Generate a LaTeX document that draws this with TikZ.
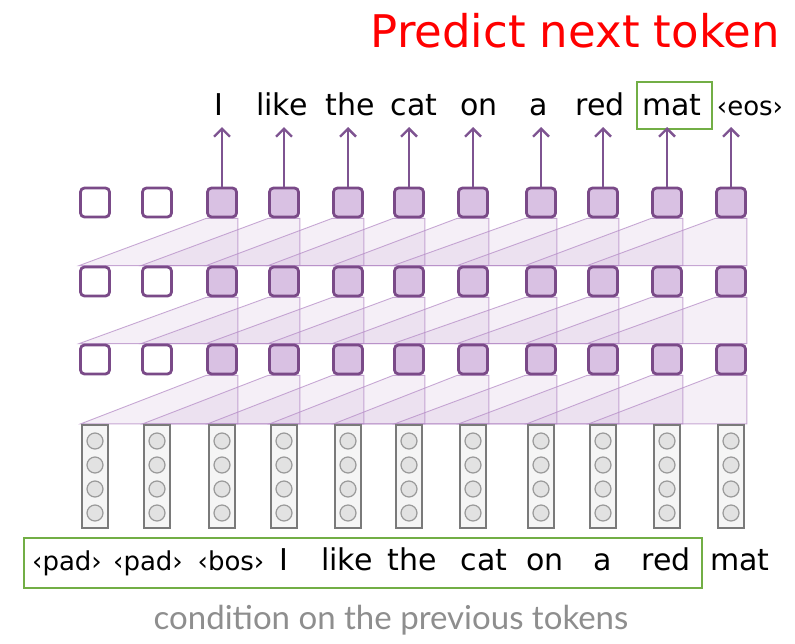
\documentclass[tikz,border=0pt]{standalone}
\usepackage{fontspec}
\setmainfont{DejaVu Sans}
\newfontfamily\capfont{Lato}
\usetikzlibrary{arrows.meta,calc,backgrounds}
\definecolor{pdark}{HTML}{7A4A88}
\definecolor{pfill}{HTML}{D9C1E3}
\definecolor{pline}{HTML}{B58CC6}
\definecolor{parrow}{HTML}{7E5391}
\definecolor{gbox}{HTML}{72AE45}
\definecolor{vstroke}{HTML}{7A7A7A}
\definecolor{vfill}{HTML}{F5F5F5}
\definecolor{cfill}{HTML}{E2E2E2}
\definecolor{cstroke}{HTML}{9A9A9A}
\definecolor{captc}{HTML}{8E8E8E}
\begin{document}
\begin{tikzpicture}[x=1pt,y=-1pt,
  cell/.style={draw=pdark,line width=2.8pt,rounded corners=4pt,minimum size=29pt,inner sep=0pt},
  vec/.style={draw=vstroke,line width=2.4pt,fill=vfill,minimum width=26pt,minimum height=103pt,inner sep=0pt},
  unit/.style={circle,draw=cstroke,fill=cfill,line width=1.2pt,minimum size=16pt,inner sep=0pt},
  field/.style={fill=pline,fill opacity=0.14,draw=pline,draw opacity=0.75,line width=0.9pt},
  word/.style={font=\fontsize{30}{36}\selectfont,anchor=base,inner sep=0pt},
  tok/.style={font=\fontsize{26}{31}\selectfont,anchor=base,inner sep=0pt},
  up/.style={draw=parrow,line width=2.4pt,-{Straight Barb[length=8pt,width=16pt]}},
  greenbox/.style={draw=gbox,line width=2.6pt,inner sep=0pt}
]
\useasboundingbox (0,0) rectangle (795,643);
% title
\node[text=red,font=\fontsize{45}{54}\selectfont,anchor=base east,inner sep=0pt] (title) at (780,47) {Predict next token};
% columns
\foreach \i/\x in {0/95,1/157,2/222,3/284,4/348,5/409,6/473,7/541,8/603,9/667,10/731} {
  \ifnum\i<2 \def\fc{white}\else\def\fc{pfill}\fi
  \node[cell,fill=\fc] (b1-\i) at (\x,202.5) {};
  \node[cell,fill=\fc] (b2-\i) at (\x,281.5) {};
  \node[cell,fill=\fc] (b3-\i) at (\x,359.5) {};
  \node[vec] (v-\i) at (\x,476.5) {};
  \foreach \k in {0,1,2,3} {
    \node[unit] (u-\i-\k) at (\x,{441+24*\k}) {};
  }
}
% receptive fields
\begin{pgfonlayer}{background}
\foreach \i in {2,...,10} {
  \pgfmathtruncatemacro\j{\i-2}
  \path[field] (b2-\j.north west) -- (b1-\i.south west) -- (b1-\i.south east) -- (b1-\i.south east |- b2-\j.north) -- cycle;
  \path[field] (b3-\j.north west) -- (b2-\i.south west) -- (b2-\i.south east) -- (b2-\i.south east |- b3-\j.north) -- cycle;
  \path[field] (v-\j.north west) -- (b3-\i.south west) -- (b3-\i.south east) -- (b3-\i.south east |- v-\j.north) -- cycle;
}
\end{pgfonlayer}
% output labels
\coordinate (arrowtop) at (0,127);
\node[word] (t-2) at (219,115) {I};
\node[word] (t-3) at (282,115) {like};
\node[word] (t-4) at (350,115) {the};
\node[word] (t-5) at (414,115) {cat};
\node[word] (t-6) at (479,115) {on};
\node[word] (t-7) at (539,115) {a};
\node[word] (t-8) at (600,115) {red};
\node[word] (t-9) at (672,115) {mat};
\node[tok] (t-10) at (750,115) {‹eos›};
\node[greenbox,minimum width=75pt,minimum height=47pt] (topbox) at (674.5,105.5) {};
\foreach \i in {2,...,10} {
  \draw[up] (b1-\i.north) -- (b1-\i.north |- arrowtop);
}
% input labels
\node[greenbox,minimum width=678pt,minimum height=50pt] (ctxbox) at (363,563) {};
\node[tok] (s-0) at (67,570) {‹pad›};
\node[tok] (s-1) at (148,570) {‹pad›};
\node[tok] (s-2) at (231,570) {‹bos›};
\node[word] (s-3) at (284,570) {I};
\node[word] (s-4) at (347,570) {like};
\node[word] (s-5) at (412,570) {the};
\node[word] (s-6) at (484,570) {cat};
\node[word] (s-7) at (545,570) {on};
\node[word] (s-8) at (603,570) {a};
\node[word] (s-9) at (666,570) {red};
\node[word] (s-10) at (740,570) {mat};
% caption
\node[text=captc,font=\capfont\fontsize{33}{40}\selectfont,anchor=base,inner sep=0pt] (cap) at (391,629) {condition on the previous tokens};
\end{tikzpicture}
\end{document}
